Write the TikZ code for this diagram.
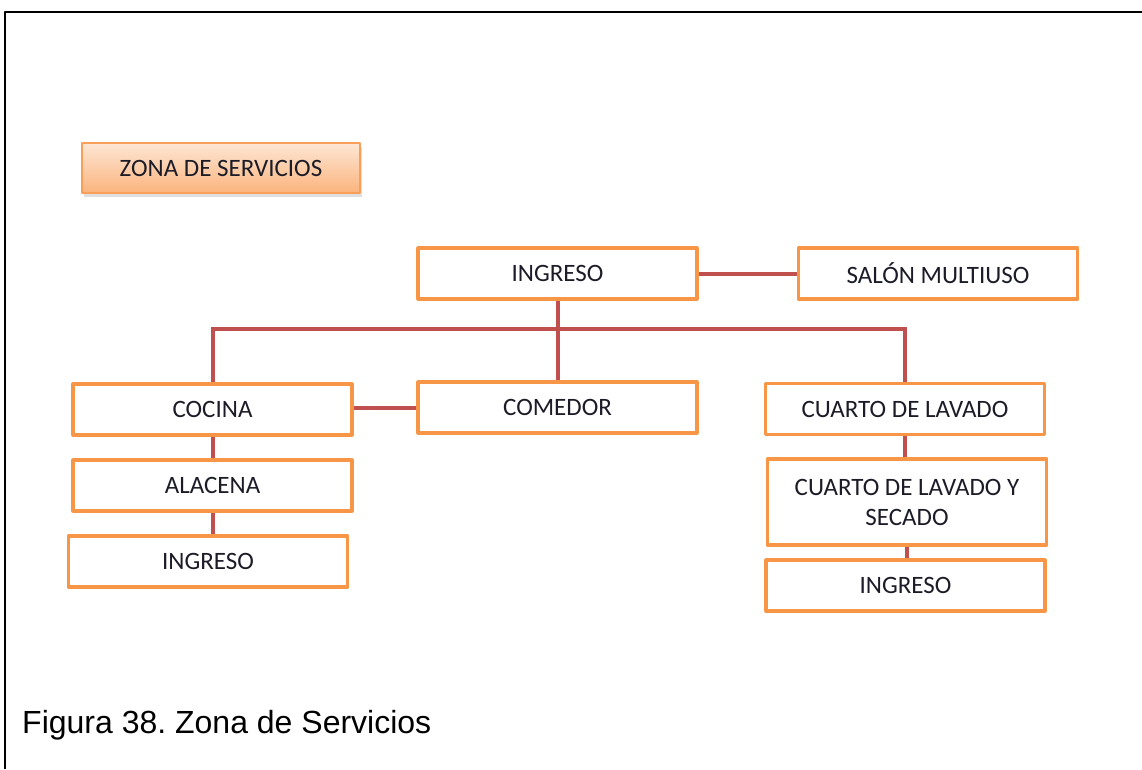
\documentclass[tikz,border=0pt]{standalone}
\usepackage{fontspec}
\setmainfont{Carlito}
\newfontfamily\captionfont{Liberation Sans}
\usetikzlibrary{shadows,backgrounds}
\definecolor{boxorange}{RGB}{247,150,70}
\definecolor{linkred}{RGB}{192,80,77}
\definecolor{textdark}{RGB}{28,28,40}
\definecolor{peachtop}{RGB}{253,230,212}
\definecolor{peachbot}{RGB}{251,180,125}
\frenchspacing

\begin{document}
\begin{tikzpicture}[x=1pt, y=-1pt, line join=round,
    box/.style={draw=boxorange, line width=3.2pt, fill=white, minimum width=279pt, minimum height=51pt, inner sep=0pt, align=center, text=textdark, font=\fontsize{25}{30}\selectfont},
    link/.style={draw=linkred, line width=4pt}]
      \useasboundingbox (0,0) rectangle (1142,769);
      \draw[line width=2pt] (5,769) -- (5,12) -- (1142,12);

      \node[box, draw=boxorange!90, line width=1.5pt, minimum width=278pt, minimum height=50pt, top color=peachtop, bottom color=peachbot, drop shadow={shadow xshift=2pt, shadow yshift=-4pt, fill=black!25}] (zona) at (221,168) {ZONA DE SERVICIOS};

      \node[box] (ing) at (557.5,273.5) {INGRESO};
      \node[box] (salon) at (938,273.5) {SALÓN MULTIUSO};

      \node[box] (cocina) at (212.5,409.5) {COCINA};
      \node[box] (comedor) at (557.5,407.5) {COMEDOR};
      \node[box] (lavado) at (905,409) {CUARTO DE LAVADO};

      \node[box] (alacena) at (212.5,485.5) {ALACENA};
      \node[box] (ingA) at (208,561.5) {INGRESO};

      \node[box, minimum height=86pt] (secado) at (907,502) {CUARTO DE LAVADO Y\\SECADO};
      \node[box] (ingB) at (905.5,585.5) {INGRESO};

      \coordinate (hub) at (557.5,329);

      \begin{scope}[on background layer]
        \draw[link] (ing.east) -- (salon.west);
        \draw[link] (ing.south) -- (comedor.north);
        \draw[link] (cocina.north) |- (hub) -| (lavado.north);
        \draw[link] (comedor.west) -- (comedor.west -| cocina.east);
        \draw[link] (cocina.south) -- (alacena.north);
        \draw[link] (alacena.south) -- (alacena.south |- ingA.north);
        \draw[link] (lavado.south) -- (lavado.south |- secado.north);
        \draw[link] (secado.south) -- (secado.south |- ingB.north);
      \end{scope}

      \node[anchor=base west, inner sep=0pt, font=\captionfont\fontsize{32}{38}\selectfont] (caption) at (22,733) {Figura 38. Zona de Servicios};
    \end{tikzpicture}
\end{document}
